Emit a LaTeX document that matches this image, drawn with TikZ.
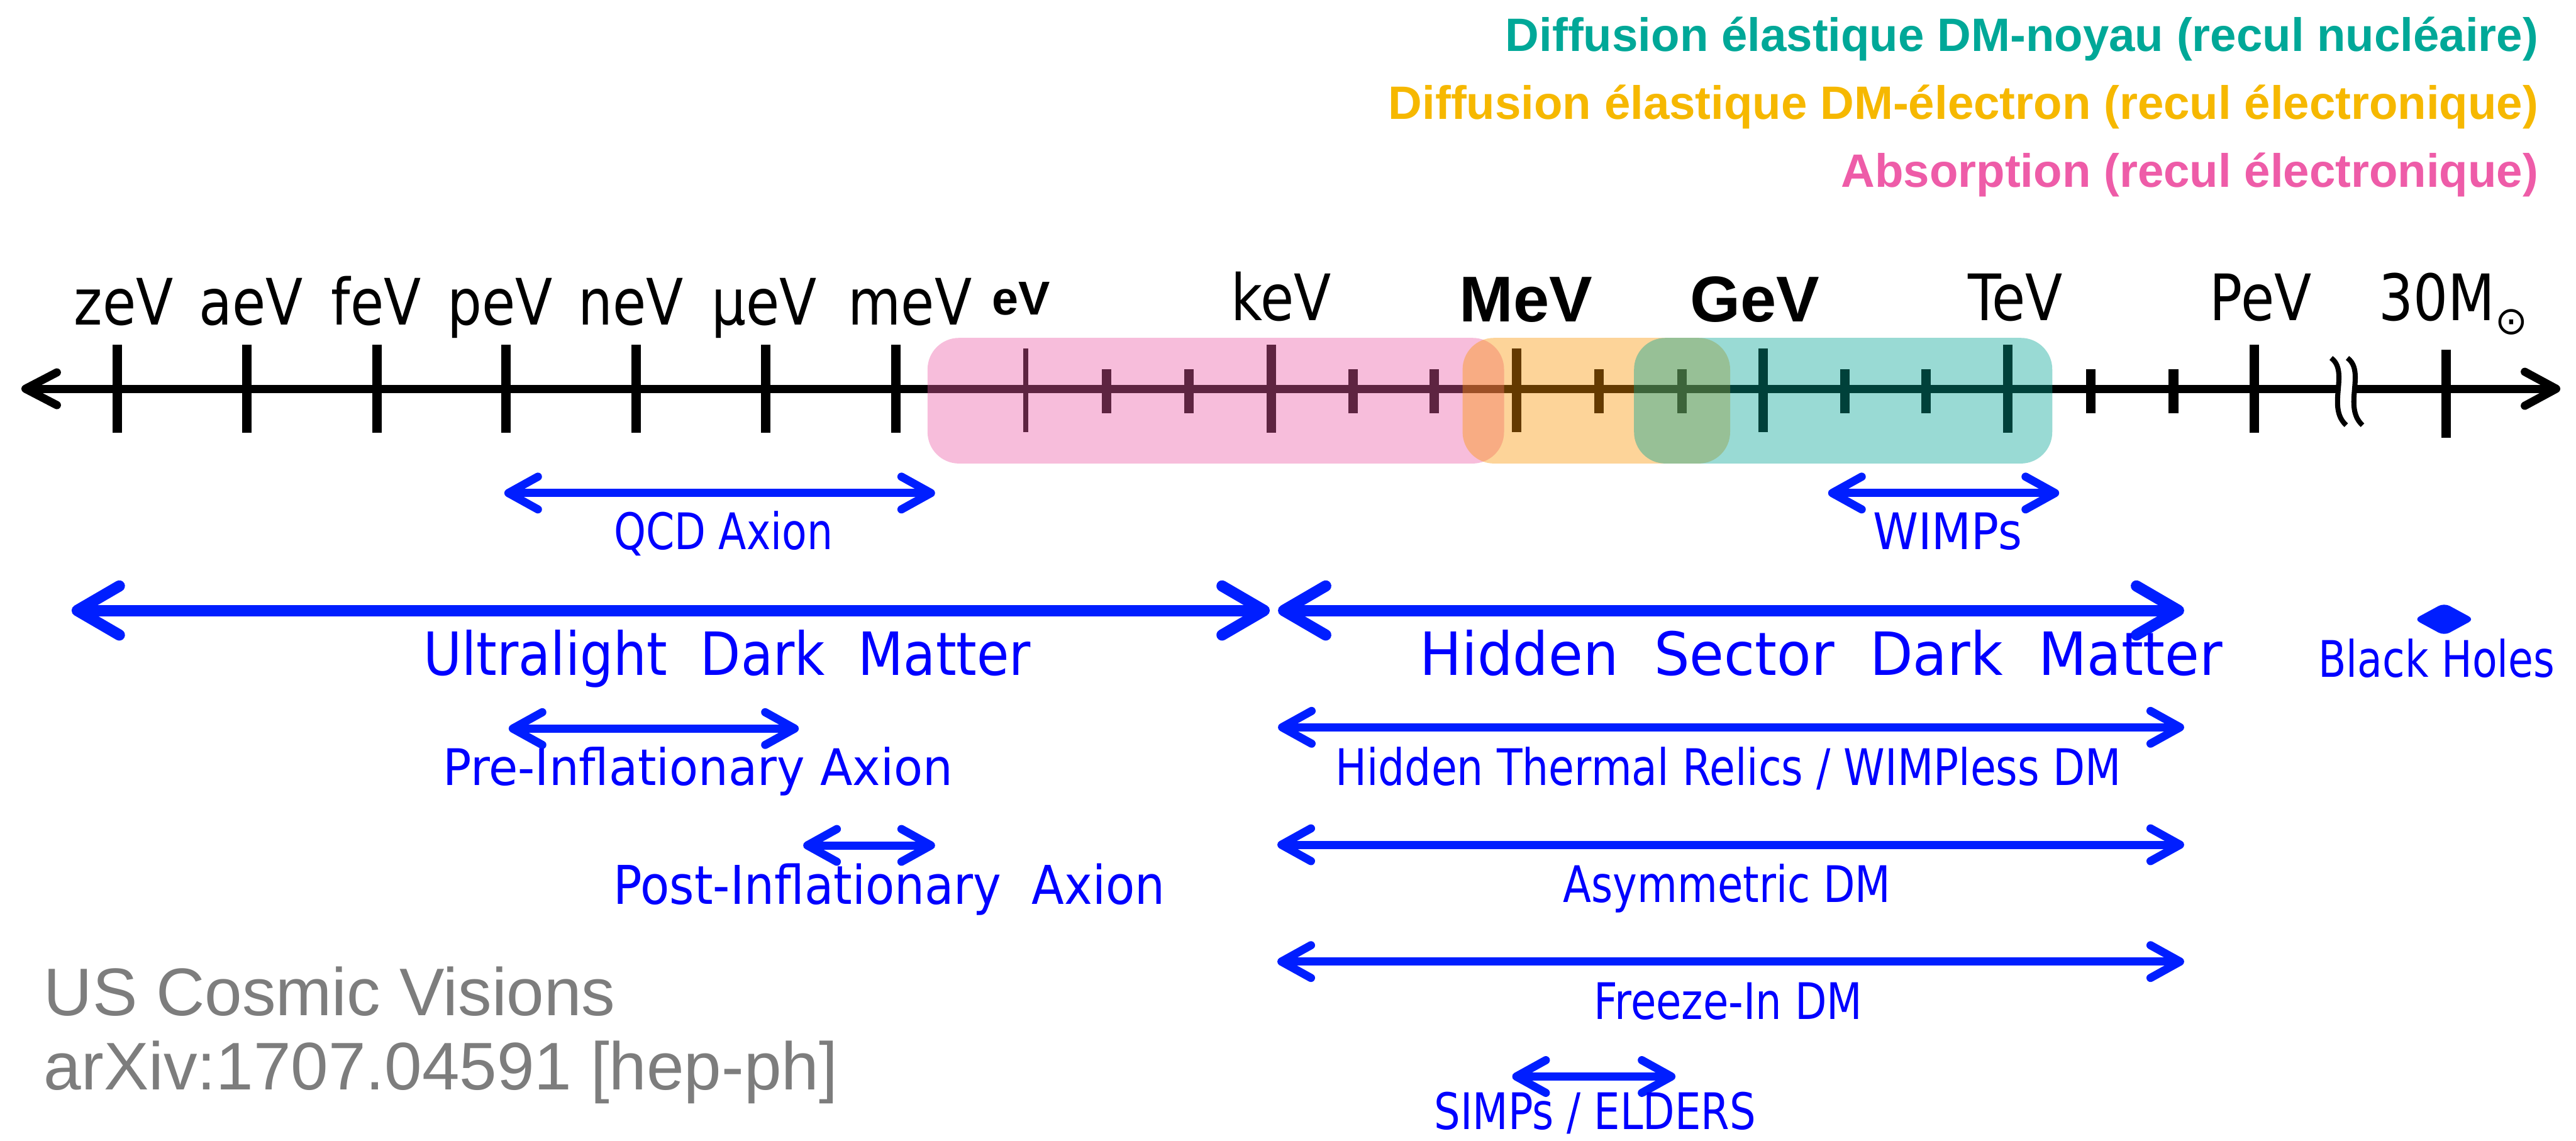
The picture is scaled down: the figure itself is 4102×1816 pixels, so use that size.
\documentclass[tikz,border=0pt]{standalone}
\usepackage{fontspec}
\usepackage{graphicx}
\usetikzlibrary{arrows.meta}
\newfontfamily\labfont{DejaVu Sans}
\newfontfamily\helfont{Liberation Sans}
\newcommand\fsz[1]{\fontsize{#1}{#1}\selectfont}
\newcommand\sqz[2]{\scalebox{#1}[1]{#2}}
\definecolor{legteal}{RGB}{0,168,152}
\definecolor{leggold}{RGB}{246,184,0}
\definecolor{legpink}{RGB}{238,92,168}
\definecolor{boxpink}{RGB}{236,90,164}
\definecolor{boxorange}{RGB}{250,147,0}
\definecolor{boxteal}{RGB}{0,163,147}
\definecolor{dmblue}{RGB}{0,30,255}
\definecolor{dmtext}{RGB}{0,0,255}
\definecolor{refgray}{RGB}{125,125,125}
\begin{document}
\begin{tikzpicture}[x=0.01cm,y=-0.01cm,
  every node/.style={inner sep=0pt,outer sep=0pt},
  axisline/.style={line width=3.7pt,
    arrows={Straight Barb[length=5mm,width=5.2mm,round]-Straight Barb[length=5mm,width=5.4mm,round]}},
  axtick/.style={line width=4.3pt},
  dmrange/.style={dmblue,line width=3.7pt,
    arrows={Straight Barb[length=4.7mm,width=5.2mm,round]-Straight Barb[length=4.7mm,width=5.2mm,round]}},
  dmbigrange/.style={dmblue,line width=5.1pt,
    arrows={Straight Barb[length=6.7mm,width=7.8mm,round]-Straight Barb[length=6.7mm,width=7.8mm,round]}},
  legline/.style={anchor=base east,font=\helfont\bfseries\fsz{21.2pt}},
  axlab/.style={anchor=base,font=\labfont\fsz{29pt}},
  boldlab/.style={anchor=base,font=\helfont\bfseries\fsz{29.3pt}},
  smalllab/.style={anchor=base,text=dmtext,font=\labfont\fsz{22.8pt}},
  biglab/.style={anchor=base,text=dmtext,font=\labfont\fsz{27pt}},
  citation/.style={anchor=base west,text=refgray,font=\helfont\fsz{30.5pt}},
  bandfill/.style={fill opacity=0.4,rounded corners=5mm}
]
\useasboundingbox (0,0) rectangle (4102,1816);

% legend of the detection channels
\node[legline,text=legteal] (lgNuc) at (4042,82) {Diffusion élastique DM-noyau (recul nucléaire)};
\node[legline,text=leggold] (lgEl) at (4042,190) {Diffusion élastique DM-électron (recul électronique)};
\node[legline,text=legpink] (lgAbs) at (4042,298) {Absorption (recul électronique)};

% mass axis
\coordinate (axL) at (34,619);
\coordinate (axR) at (4077,619);
\draw[axisline] (axL) -- (axR);
\foreach \x in {187,393,600,806,1013,1219,1427,2024,3197,3590}
  \draw[axtick] (\x,549) -- (\x,689);
\foreach \x in {2415,2808}
  \draw[axtick] (\x,555) -- (\x,688);
\draw[axtick,line width=2.3pt] (1633,555) -- (1633,688);
\draw[axtick] (3895,557) -- (3895,697);
\foreach \x in {1762,1893,2155,2284,2546,2678,2938,3067,3329,3461}
  \draw[axtick] (\x,588) -- (\x,658);

% axis break
\fill[white] (3712,570) .. controls (3742,592) and (3704,648) .. (3736,677)
  -- (3762,677) .. controls (3730,648) and (3768,592) .. (3738,570) -- cycle;
\draw[line width=2.3pt] (3712,570) .. controls (3742,592) and (3704,648) .. (3736,677);
\draw[line width=2.3pt] (3738,570) .. controls (3768,592) and (3730,648) .. (3762,677);

% mass scale labels
\node[axlab] (zeV) at (197,517) {\sqz{0.85}{zeV}};
\node[axlab] (aeV) at (400,517) {\sqz{0.85}{aeV}};
\node[axlab] (feV) at (599,517) {\sqz{0.85}{feV}};
\node[axlab] (peV) at (796,517) {\sqz{0.85}{peV}};
\node[axlab] (neV) at (1005,517) {\sqz{0.85}{neV}};
\node[axlab] (ueV) at (1217,517) {\sqz{0.85}{μeV}};
\node[axlab] (meV) at (1449,517) {\sqz{0.85}{meV}};
\node[boldlab,font=\helfont\bfseries\fsz{21.5pt}] (eV) at (1626,501) {eV};
\node[axlab] (keV) at (2040,510) {\sqz{0.85}{keV}};
\node[boldlab] (MeV) at (2430,512) {MeV};
\node[boldlab] (GeV) at (2794,512) {GeV};
\node[axlab] (TeV) at (3209,510) {\sqz{0.85}{TeV}};
\node[axlab] (PeV) at (3600,510) {\sqz{0.85}{PeV}};
\node[axlab,anchor=base west] (Msun) at (3788,510) {\sqz{0.85}{30M}{\fsz{17.6pt}\raisebox{-0.36em}{⊙}}};

% sensitivity bands of the detection channels
\fill[bandfill,boxpink] (1477,538) rectangle (2395,738);
\fill[bandfill,boxorange] (2329,538) rectangle (2755,738);
\fill[bandfill,boxteal] (2602,538) rectangle (3268,738);

% dark matter candidates
\coordinate (qcdL) at (803,785);   \coordinate (qcdR) at (1489,785);
\coordinate (wimpL) at (2911,785); \coordinate (wimpR) at (3279,785);
\coordinate (uldmL) at (114,972);  \coordinate (uldmR) at (2022,972);
\coordinate (hsdmL) at (2035,972); \coordinate (hsdmR) at (3478,972);
\coordinate (preL) at (810,1160);  \coordinate (preR) at (1272,1160);
\coordinate (htrL) at (2035,1158); \coordinate (htrR) at (3478,1158);
\coordinate (postL) at (1279,1346);\coordinate (postR) at (1489,1346);
\coordinate (asymL) at (2034,1345);\coordinate (asymR) at (3478,1345);
\coordinate (fiL) at (2034,1531);  \coordinate (fiR) at (3478,1531);
\coordinate (simpL) at (2408,1714);\coordinate (simpR) at (2668,1714);

\draw[dmrange] (qcdL) -- (qcdR);
\draw[dmrange] (wimpL) -- (wimpR);
\draw[dmbigrange] (uldmL) -- (uldmR);
\draw[dmbigrange] (hsdmL) -- (hsdmR);
\draw[dmrange] (preL) -- (preR);
\draw[dmrange] (htrL) -- (htrR);
\draw[dmrange] (postL) -- (postR);
\draw[dmrange] (asymL) -- (asymR);
\draw[dmrange] (fiL) -- (fiR);
\draw[dmrange] (simpL) -- (simpR);
\fill[dmblue,rounded corners=1mm] (3844,986) -- (3892,960) -- (3940,986) -- (3892,1012) -- cycle;

\node[smalllab] (qcdT) at (1152,875) {\sqz{0.81}{QCD Axion}};
\node[smalllab] (wimpT) at (3101,875) {\sqz{0.91}{WIMPs}};
\node[biglab] (uldmT) at (1158,1075) {\sqz{0.88}{Ultralight\hspace{0.318em} Dark\hspace{0.318em} Matter}};
\node[biglab] (hsdmT) at (2900,1075) {\sqz{0.94}{Hidden\hspace{0.318em} Sector\hspace{0.318em} Dark\hspace{0.318em} Matter}};
\node[smalllab] (bhT) at (3880,1078) {\sqz{0.81}{Black Holes}};
\node[smalllab] (preT) at (1111,1250) {\sqz{0.94}{Pre-Inflationary Axion}};
\node[smalllab] (htrT) at (2752,1250) {\sqz{0.83}{Hidden Thermal Relics / WIMPless DM}};
\node[smalllab,font=\labfont\fsz{24.2pt}] (postT) at (1416,1440) {\sqz{0.89}{Post-Inflationary\hspace{0.318em} Axion}};
\node[smalllab] (asymT) at (2750,1437) {\sqz{0.82}{Asymmetric DM}};
\node[smalllab] (fiT) at (2752,1623) {\sqz{0.82}{Freeze-In DM}};
\node[smalllab] (simpT) at (2540,1798) {\sqz{0.82}{SIMPs / ELDERS}};

% source
\node[citation] (cv1) at (70,1617) {US Cosmic Visions};
\node[citation] (cv2) at (70,1735) {arXiv:1707.04591 [hep-ph]};
\end{tikzpicture}
\end{document}
